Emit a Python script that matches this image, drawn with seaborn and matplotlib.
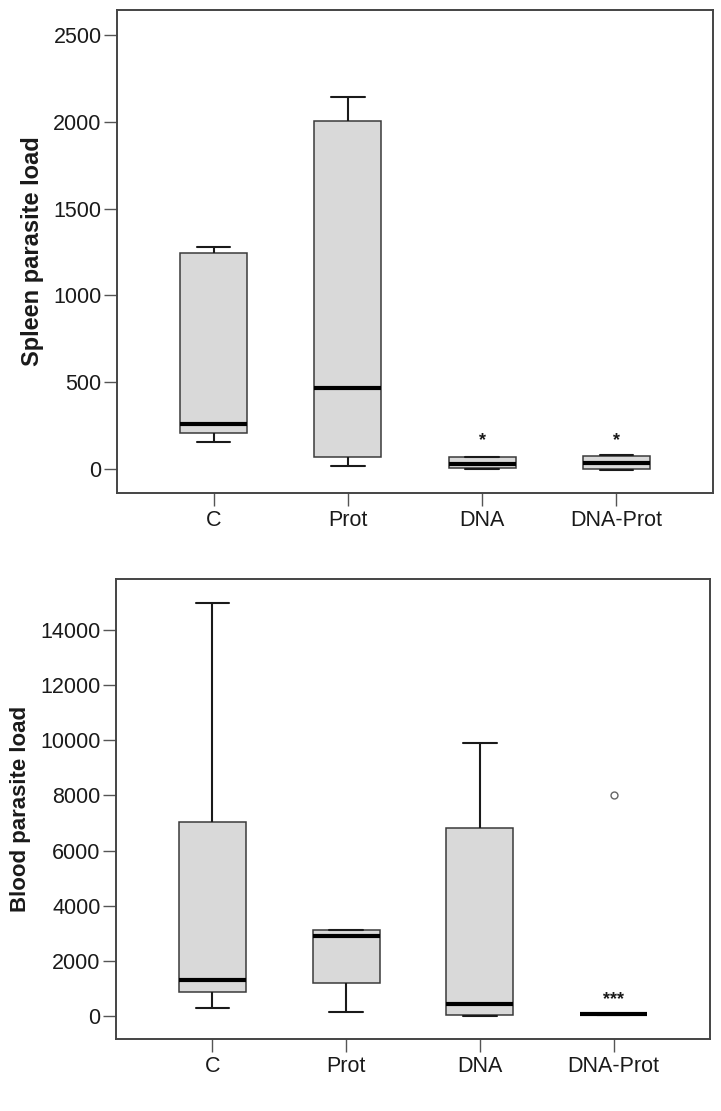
import pandas as pd
import matplotlib.pyplot as plt
import seaborn as sns

# groups on the x axis
groups = ["C", "Prot", "DNA", "DNA-Prot"]

# spleen parasite load per group
spleen_c = [155, 205, 261, 1244, 1277]
spleen_prot = [15, 67, 465, 2004, 2145]
spleen_dna = [0, 4, 29, 67, 67]
spleen_dnaprot = [-5, 1, 36, 75, 78]

# blood parasite load per group
blood_c = [302, 860, 1317, 7025, 14990]
blood_prot = [134, 1186, 2913, 3119, 3119]
blood_dna = [10, 36, 435, 6819, 9913]
blood_dnaprot = [50, 55, 60, 65, 70, 8027]

spleen_ticks = [0, 500, 1000, 1500, 2000, 2500]
blood_ticks = [0, 2000, 4000, 6000, 8000, 10000, 12000, 14000]

# significance marks: (group, label, y position)
spleen_marks = [("DNA", "*", 163), ("DNA-Prot", "*", 163)]
blood_marks = [("DNA-Prot", "***", 600)]


def long_df(values, name):
    rows = []
    for g, vals in zip(groups, values):
        for v in vals:
            rows.append({"group": g, name: v})
    return pd.DataFrame(rows)


spleen = long_df([spleen_c, spleen_prot, spleen_dna, spleen_dnaprot], "spleen")
blood = long_df([blood_c, blood_prot, blood_dna, blood_dnaprot], "blood")

sns.set_style("white")
plt.rcParams["font.family"] = ["Liberation Sans", "DejaVu Sans"]

fig = plt.figure(figsize=(7.21, 11.11), dpi=100)
ax1 = fig.add_axes([0.1623, 0.5563, 0.8267, 0.4347])
ax2 = fig.add_axes([0.1609, 0.0648, 0.8238, 0.4140])

box_kw = dict(
    order=groups, width=0.5, color="#d9d9d9", saturation=1,
    linecolor="#3a3a3a", linewidth=1.1,
    whiskerprops=dict(color="#1a1a1a", linewidth=1.5),
    capprops=dict(color="#1a1a1a", linewidth=1.5),
    medianprops=dict(color="#000000", linewidth=3),
    flierprops=dict(marker="o", markersize=5, markerfacecolor="none",
                    markeredgecolor="#666666", markeredgewidth=1),
)

sns.boxplot(data=spleen, x="group", y="spleen", ax=ax1, **box_kw)
sns.boxplot(data=blood, x="group", y="blood", ax=ax2, **box_kw)

for ax, ylab, ysize, ticks, ylim, marks in [
    (ax1, "Spleen parasite load", 17, spleen_ticks, (-138, 2644), spleen_marks),
    (ax2, "Blood parasite load", 16, blood_ticks, (-834, 15850), blood_marks),
]:
    ax.set_xlim(-0.72, 3.72)
    ax.set_ylim(*ylim)
    ax.set_yticks(ticks)
    ax.set_xlabel("")
    ax.set_ylabel(ylab, fontsize=ysize, fontweight="bold", color="#1a1a1a", labelpad=7)
    ax.tick_params(axis="both", direction="out", length=9.5, width=1,
                   color="#555555", labelsize=15.5, labelcolor="#1a1a1a",
                   left=True, bottom=True)
    ax.tick_params(axis="y", pad=1.5)
    ax.tick_params(axis="x", pad=3)
    for s in ax.spines.values():
        s.set_color("#444444")
        s.set_linewidth(1.4)
    for g, lab, y in marks:
        ax.text(groups.index(g), y, lab, ha="center", va="center",
                fontsize=13, fontweight="bold", color="#1a1a1a")

plt.savefig("out.png", dpi=100)
